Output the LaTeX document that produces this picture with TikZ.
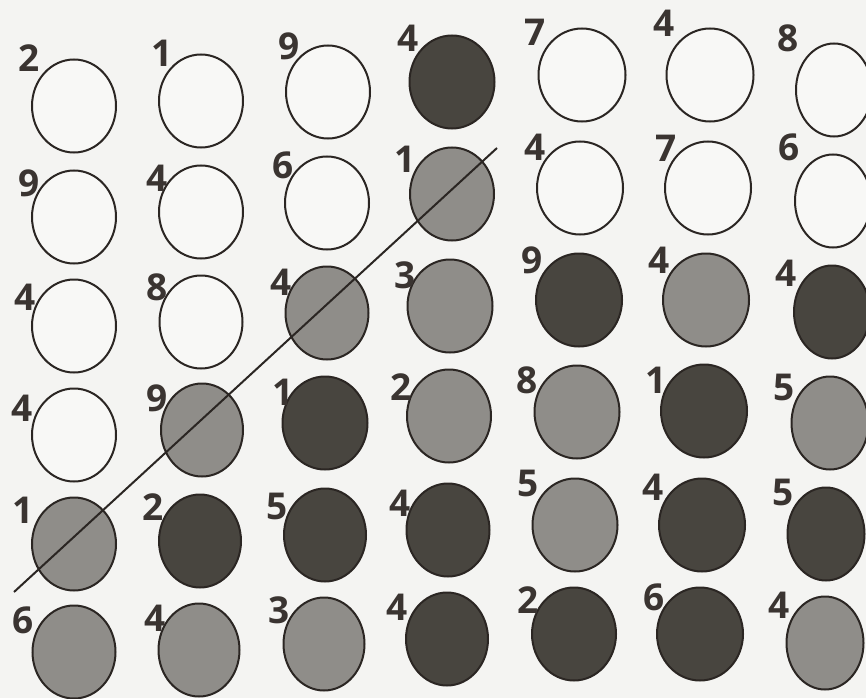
\documentclass[tikz,border=0pt]{standalone}
\usepackage{fontspec}
\setmainfont{Open Sans}
\usetikzlibrary{shapes.geometric}
\definecolor{bg}{HTML}{F4F4F2}
\definecolor{dk}{HTML}{48453F}
\definecolor{md}{HTML}{8F8D89}
\definecolor{wt}{HTML}{F8F8F6}
\definecolor{ink}{HTML}{2B2623}
\definecolor{txt}{HTML}{3A3431}
\begin{document}
\begin{tikzpicture}[x=1pt,y=-1pt,
  dot/.style={ellipse, draw=ink, line width=2pt, minimum height=93pt, inner sep=0pt},
  W/.style={dot, fill=wt}, D/.style={dot, fill=dk}, G/.style={dot, fill=md},
  num/.style={font=\fontsize{37}{37}\selectfont\bfseries, text=txt, inner sep=0pt}]
\fill[bg] (0,0) rectangle (866,698);
\useasboundingbox (0,0) rectangle (866,698);
\foreach \n/\x/\y/\w/\s/\t/\lx/\ly in {
  11/74/106/84/W/2/29/58,   12/201/101/84/W/1/162/53,  13/328/92/84/W/9/289/46,
  14/452/82/85/D/4/408/38,  15/582/75/87/W/7/535/32,   16/710/75/87/W/4/664/23,
  17/834/90/76/W/8/788/38,
  21/74/217/84/W/9/29/183,  22/201/212/84/W/4/157/178, 23/327/203/84/W/6/283/165,
  24/452/194/84/G/1/405/159, 25/580/188/86/W/4/535/147, 26/708/188/86/W/7/666/148,
  27/833/201/76/W/6/789/147,
  31/74/326/84/W/4/25/297,  32/201/322/83/W/8/157/287, 33/327/313/83/G/4/281/282,
  34/450/306/85/G/3/405/275, 35/579/300/86/D/9/532/260, 36/706/300/86/G/4/659/260,
  37/832/312/76/D/4/786/273,
  41/74/435/84/W/4/22/408,  42/202/430/82/G/9/157/398, 43/325/423/85/D/1/283/392,
  44/449/416/84/G/2/401/387, 45/577/412/85/G/8/527/380, 46/704/411/86/D/1/656/380,
  47/830/423/77/G/5/784/387,
  51/74/544/84/G/1/23/510,  52/200/541/82/D/2/153/507, 53/325/535/82/D/5/277/506,
  54/448/530/83/D/4/400/503, 55/575/525/85/G/5/528/483, 56/702/525/86/D/4/653/487,
  57/826/534/77/D/5/783/492,
  61/74/652/83/G/6/23/620,  62/199/650/81/G/4/155/618, 63/324/644/81/G/3/279/610,
  64/447/639/82/D/4/397/607, 65/574/634/84/D/2/528/600, 66/700/634/86/D/6/654/597,
  67/825/643/77/G/4/779/605}
{
  \node[\s, minimum width=\w pt] (c\n) at (\x,\y) {};
  \node[num] (l\n) at (\lx,\ly) {\t};
}
\coordinate (ls) at (14,592);
\coordinate (le) at (497,148);
\draw[ink, line width=2pt] (ls) -- (le);
\end{tikzpicture}
\end{document}
